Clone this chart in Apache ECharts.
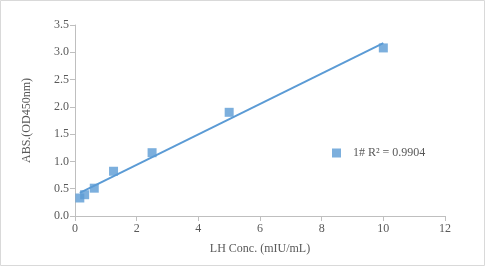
<!DOCTYPE html>
<html><head><meta charset="utf-8">
<script src="https://cdn.jsdelivr.net/npm/echarts@6/dist/echarts.min.js"></script>
<style>html,body{margin:0;padding:0;background:#fff}#c{width:485px;height:266px}</style>
</head><body><div id="c"></div>
<script>
var concentrations = [0.156, 0.3125, 0.625, 1.25, 2.5, 5, 10];
var absorbance = [0.33, 0.39, 0.51, 0.82, 1.16, 1.90, 3.08];
var seriesName = '1# R² = 0.9904';
var xTicks = [0, 2, 4, 6, 8, 10, 12];
var yTicks = [0.0, 0.5, 1.0, 1.5, 2.0, 2.5, 3.0, 3.5];

// linear trendline fitted from the data
var n = concentrations.length, mx = 0, my = 0;
for (var i = 0; i < n; i++) { mx += concentrations[i]; my += absorbance[i]; }
mx /= n; my /= n;
var sxy = 0, sxx = 0;
for (var i = 0; i < n; i++) { sxy += (concentrations[i]-mx)*(absorbance[i]-my); sxx += (concentrations[i]-mx)*(concentrations[i]-mx); }
var slope = sxy / sxx, intercept = my - slope * mx;
var xmin = concentrations[0], xmax = concentrations[n-1];
var trend = [[xmin, intercept + slope*xmin], [xmax, intercept + slope*xmax]];

var font = '"Liberation Serif", "Times New Roman", serif';
var chart = echarts.init(document.getElementById('c'), null, {renderer:'canvas'});
chart.setOption({
  animation: false,
  backgroundColor: '#fff',
  textStyle: {fontFamily: font},
  graphic: [{type:'rect', shape:{x:0.5,y:0.5,width:484,height:265}, style:{fill:'none', stroke:'#d9d9d9', lineWidth:1}, silent:true}],
  grid: {left: 75, right: 40, top: 25, bottom: 50},
  legend: {
    data: [seriesName], left: 327, top: 142, icon: 'rect', itemWidth: 9, itemHeight: 9, itemGap: 5,
    textStyle: {fontFamily: font, fontSize: 12, color: '#595959', padding: [0, 0, 0, 7]}
  },
  xAxis: {
    type: 'value', min: xTicks[0], max: xTicks[xTicks.length-1], interval: 2,
    name: 'LH Conc. (mIU/mL)', nameLocation: 'middle', nameGap: 27,
    nameTextStyle: {fontFamily: font, fontSize: 12, color: '#595959'},
    axisLine: {show: true, lineStyle: {color: '#bfbfbf'}},
    axisTick: {show: true, length: 5, lineStyle: {color: '#bfbfbf'}},
    axisLabel: {fontFamily: font, fontSize: 12, color: '#595959', margin: 7},
    splitLine: {show: false}
  },
  yAxis: {
    type: 'value', min: yTicks[0], max: yTicks[yTicks.length-1], interval: 0.5,
    name: 'ABS.(OD450nm)', nameLocation: 'middle', nameGap: 42,
    nameTextStyle: {fontFamily: font, fontSize: 12, color: '#595959'},
    axisLine: {show: true, lineStyle: {color: '#bfbfbf'}},
    axisTick: {show: true, length: 5, lineStyle: {color: '#bfbfbf'}},
    axisLabel: {fontFamily: font, fontSize: 12, color: '#595959', margin: 6,
      formatter: function(v){ return v.toFixed(1); }},
    splitLine: {show: false}
  },
  series: [
    {name: seriesName, type: 'scatter', symbol: 'rect', symbolSize: 9,
     itemStyle: {color: '#5b9bd5'}, z: 3,
     data: concentrations.map(function(x, i){ return [x, absorbance[i]]; })},
    {name: 'trend', type: 'line', data: trend, showSymbol: false, symbol: 'none',
     lineStyle: {color: '#5b9bd5', width: 2}, z: 2, silent: true}
  ]
});
</script></body></html>
